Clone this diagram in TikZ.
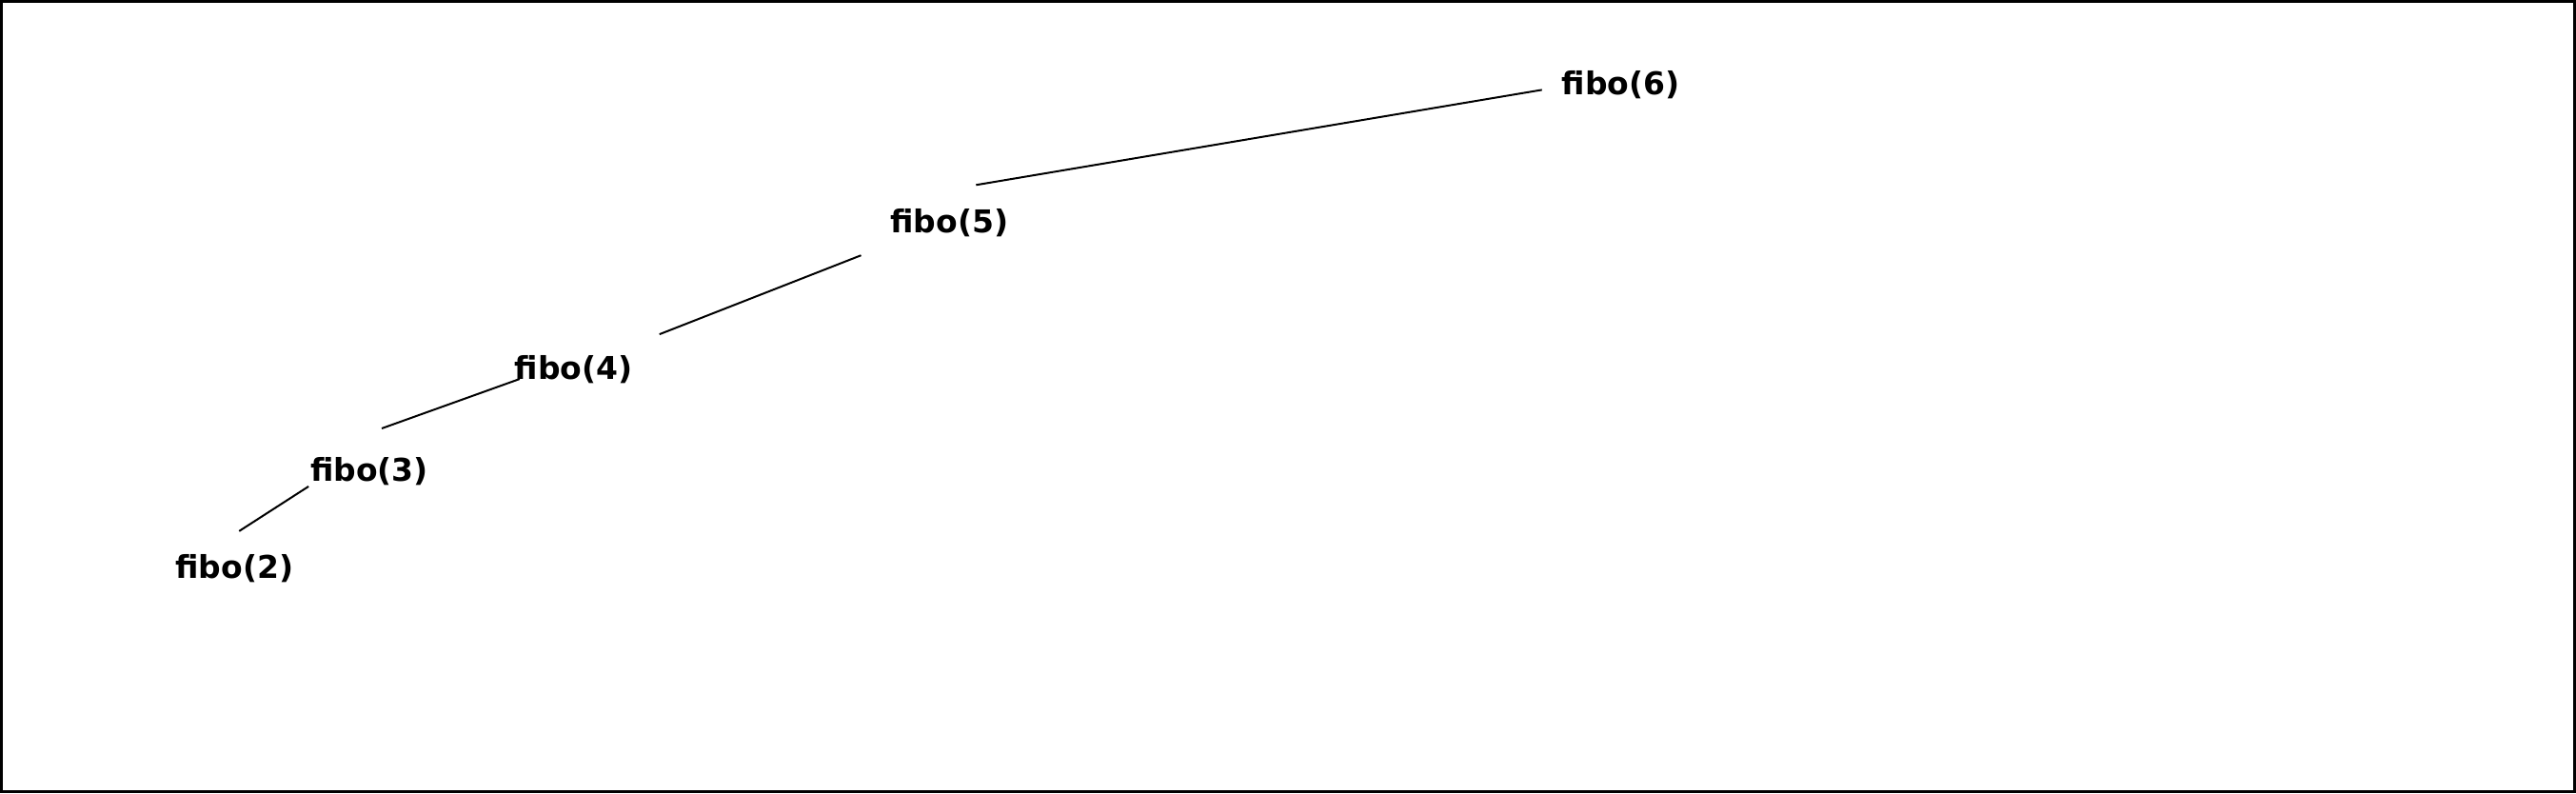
\documentclass[tikz,border=0pt]{standalone}
\usepackage{fontspec}
\setmainfont{DejaVu Sans}
\begin{document}
\begin{tikzpicture}[x=1pt,y=-1pt,
  lbl/.style={anchor=base,inner sep=0pt,font=\fontsize{33}{39}\selectfont\bfseries},
  edge/.style={line width=2pt}]
\draw[line width=3pt] (0,0) rectangle (2706,831);
\useasboundingbox (0,0) rectangle (2706,831);
\node[lbl] (n6) at (1703,98) {fibo(6)};
\node[lbl] (n5) at (997,243) {fibo(5)};
\node[lbl] (n4) at (602,397) {fibo(4)};
\node[lbl] (n3) at (387,505) {fibo(3)};
\node[lbl] (n2) at (245,607) {fibo(2)};
\coordinate (e6a) at (1620,93);
\coordinate (e6b) at (1025,193);
\coordinate (e5a) at (904,267);
\coordinate (e5b) at (692,350);
\coordinate (e4a) at (545,397);
\coordinate (e4b) at (400,449);
\coordinate (e3a) at (323,510);
\coordinate (e3b) at (250,557);
\draw[edge] (e6a) -- (e6b);
\draw[edge] (e5a) -- (e5b);
\draw[edge] (e4a) -- (e4b);
\draw[edge] (e3a) -- (e3b);
\end{tikzpicture}
\end{document}
